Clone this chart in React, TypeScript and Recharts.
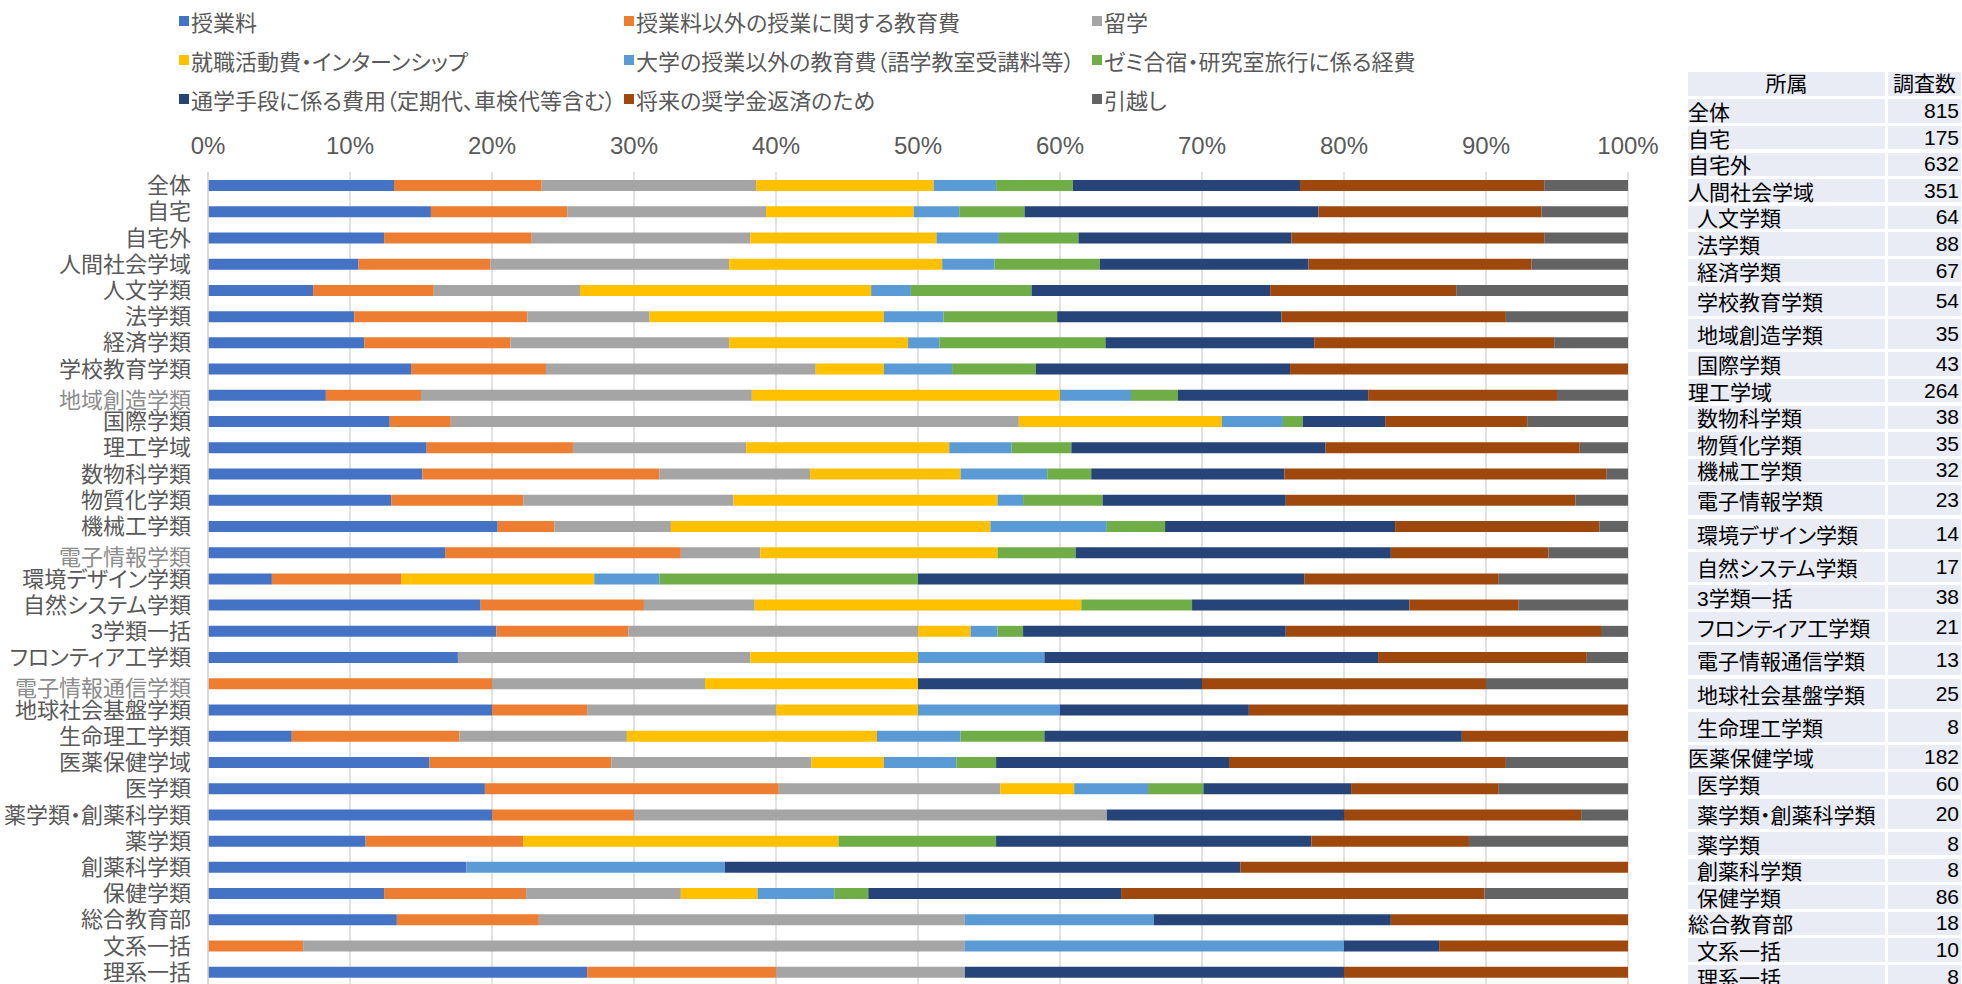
import { BarChart, Bar, XAxis, YAxis, CartesianGrid } from 'recharts';

const FONT = "'Liberation Sans', 'Noto Sans CJK JP', sans-serif";
const PALT = '"palt" 1';

const categories = [
  '全体', '自宅', '自宅外', '人間社会学域', '人文学類', '法学類', '経済学類', '学校教育学類',
  '地域創造学類', '国際学類', '理工学域', '数物科学類', '物質化学類', '機械工学類', '電子情報学類',
  '環境デザイン学類', '自然システム学類', '3学類一括', 'フロンティア工学類', '電子情報通信学類',
  '地球社会基盤学類', '生命理工学類', '医薬保健学域', '医学類', '薬学類・創薬科学類', '薬学類',
  '創薬科学類', '保健学類', '総合教育部', '文系一括', '理系一括'
];

// percentages per category, same order as categories
const tuition = [13.1, 15.7, 12.4, 10.6, 7.4, 10.3, 11.0, 14.3, 8.3, 12.8, 15.4, 15.1, 12.9, 20.4, 16.7, 4.5, 19.2, 20.3, 17.6, 0, 20.0, 5.9, 15.6, 19.5, 20.0, 11.1, 18.2, 12.4, 13.3, 0, 26.7];
const otherClass = [10.4, 9.6, 10.4, 9.3, 8.5, 12.2, 10.3, 9.5, 6.7, 4.3, 10.3, 16.7, 9.3, 4.0, 16.6, 9.1, 11.5, 9.3, 0, 20.0, 6.7, 11.8, 12.8, 20.7, 10.0, 11.1, 0, 10.0, 10.0, 6.7, 13.3];
const studyAbroad = [15.1, 14.0, 15.4, 16.8, 10.3, 8.6, 15.4, 19.0, 23.3, 40.0, 12.2, 10.6, 14.8, 8.2, 5.6, 0, 7.8, 20.4, 20.6, 15.0, 13.3, 11.8, 14.1, 15.6, 33.3, 0, 0, 10.9, 30.0, 46.6, 13.3];
const jobHunting = [12.5, 10.4, 13.1, 15.0, 20.5, 16.5, 12.6, 4.8, 21.7, 14.3, 14.3, 10.6, 18.6, 22.5, 16.7, 13.6, 23.0, 3.7, 11.8, 15.0, 10.0, 17.6, 5.1, 5.2, 0, 22.2, 0, 5.4, 0, 0, 0];
const extraEdu = [4.4, 3.2, 4.4, 3.7, 2.8, 4.2, 2.2, 4.8, 5.0, 4.3, 4.4, 6.1, 1.8, 8.2, 0, 4.6, 0, 1.9, 8.9, 0, 10.0, 5.9, 5.1, 5.2, 0, 0, 18.2, 5.4, 13.3, 26.7, 0];
const seminar = [5.4, 4.6, 5.6, 7.4, 8.5, 8.0, 11.7, 5.9, 3.3, 1.4, 4.2, 3.1, 5.6, 4.1, 5.5, 18.2, 7.8, 1.8, 0, 0, 0, 5.9, 2.8, 3.9, 0, 11.1, 0, 2.4, 0, 0, 0];
const commute = [16.0, 20.7, 15.0, 14.7, 16.8, 15.8, 14.7, 17.9, 13.4, 5.8, 17.9, 13.6, 12.9, 16.2, 22.2, 27.2, 15.3, 18.5, 23.5, 20.0, 13.3, 29.4, 16.4, 10.4, 16.7, 22.2, 36.3, 17.8, 16.7, 6.7, 26.7];
const scholarship = [17.2, 15.7, 17.8, 15.7, 13.1, 15.8, 16.9, 23.8, 13.3, 10.0, 17.9, 22.7, 20.4, 14.4, 11.1, 13.7, 7.7, 22.2, 14.7, 20.0, 26.7, 11.7, 19.5, 10.4, 16.7, 11.1, 27.3, 25.6, 16.7, 13.3, 20.0];
const moving = [5.9, 6.1, 5.9, 6.8, 12.1, 8.6, 5.2, 0, 5.0, 7.1, 3.4, 1.5, 3.7, 2.0, 5.6, 9.1, 7.7, 1.9, 2.9, 10.0, 0, 0, 8.6, 9.1, 3.3, 11.2, 0, 10.1, 0, 0, 0];

const respondents = [815, 175, 632, 351, 64, 88, 67, 54, 35, 43, 264, 38, 35, 32, 23, 14, 17, 38, 21, 13, 25, 8, 182, 60, 20, 8, 8, 86, 18, 10, 8];

const xTicks = [0, 10, 20, 30, 40, 50, 60, 70, 80, 90, 100];

const series = [
  { key: 'tuition', name: '授業料', color: '#4472C4', values: tuition },
  { key: 'otherClass', name: '授業料以外の授業に関する教育費', color: '#ED7D31', values: otherClass },
  { key: 'studyAbroad', name: '留学', color: '#A5A5A5', values: studyAbroad },
  { key: 'jobHunting', name: '就職活動費・インターンシップ', color: '#FFC000', values: jobHunting },
  { key: 'extraEdu', name: '大学の授業以外の教育費（語学教室受講料等）', color: '#5B9BD5', values: extraEdu },
  { key: 'seminar', name: 'ゼミ合宿・研究室旅行に係る経費', color: '#70AD47', values: seminar },
  { key: 'commute', name: '通学手段に係る費用（定期代、車検代等含む）', color: '#264478', values: commute },
  { key: 'scholarship', name: '将来の奨学金返済のため', color: '#9E480E', values: scholarship },
  { key: 'moving', name: '引越し', color: '#636363', values: moving }
];

const data = categories.map((name, i) => {
  const row: Record<string, string | number> = { name };
  series.forEach((s) => {
    row[s.key] = s.values[i];
  });
  return row;
});

// labels drawn lighter / a bit lower in the original
const FADED = new Set(['地域創造学類', '電子情報学類', '電子情報通信学類']);
const TOP_LEVEL = new Set(['全体', '自宅', '自宅外', '人間社会学域', '理工学域', '医薬保健学域', '総合教育部']);
const TALL_ROWS = new Set([
  '学校教育学類', '地域創造学類', '電子情報学類', '環境デザイン学類', '自然システム学類',
  'フロンティア工学類', '電子情報通信学類', '地球社会基盤学類', '生命理工学類', '薬学類・創薬科学類'
]);

function CategoryTick(props: any) {
  const { x, y, payload } = props;
  const faded = FADED.has(payload.value);
  return (
    <text
      x={x}
      y={y}
      dy={faded ? 13 : 8}
      textAnchor="end"
      fill={faded ? '#8C8C8C' : '#595959'}
      fontSize={22}
      fontFamily={FONT}
      style={{ fontFeatureSettings: PALT }}
    >
      {payload.value}
    </text>
  );
}

const legendCols = [179, 624, 1092];
const legendRows = [21, 60, 99];

function LegendBlock() {
  return (
    <>
      {series.map((s, i) => (
        <div
          key={s.key}
          style={{
            position: 'absolute',
            left: legendCols[i % 3],
            top: legendRows[Math.floor(i / 3)] - 14,
            height: 28,
            display: 'flex',
            alignItems: 'center',
            whiteSpace: 'nowrap',
            fontSize: 22,
            color: '#595959',
            fontFeatureSettings: PALT
          }}
        >
          <span style={{ width: 10, height: 10, background: s.color, marginRight: 2, display: 'inline-block' }} />
          {s.name}
        </div>
      ))}
    </>
  );
}

function CountTable() {
  return (
    <div
      style={{
        position: 'absolute',
        left: 1688,
        top: 72,
        width: 273,
        fontSize: 21,
        color: '#000',
        fontFeatureSettings: PALT
      }}
    >
      <div style={{ display: 'flex', height: 24, marginBottom: 3.3 }}>
        <div style={{ width: 197, background: '#E9EBF5', textAlign: 'center', lineHeight: '24px' }}>所属</div>
        <div style={{ width: 3 }} />
        <div style={{ width: 73, background: '#E9EBF5', textAlign: 'center', lineHeight: '24px' }}>調査数</div>
      </div>
      {categories.map((name, i) => {
        const h = TALL_ROWS.has(name) ? 30 : 23.3;
        return (
          <div key={name} style={{ display: 'flex', height: h, marginBottom: 3.33 }}>
            <div
              style={{
                width: 197,
                background: '#E9EBF5',
                display: 'flex',
                alignItems: 'center',
                paddingLeft: TOP_LEVEL.has(name) ? 0 : 9,
                boxSizing: 'border-box',
                whiteSpace: 'nowrap'
              }}
            >
              {name}
            </div>
            <div style={{ width: 3 }} />
            <div
              style={{
                width: 73,
                background: '#E9EBF5',
                display: 'flex',
                alignItems: 'center',
                justifyContent: 'flex-end',
                paddingRight: 2,
                boxSizing: 'border-box'
              }}
            >
              {respondents[i]}
            </div>
          </div>
        );
      })}
    </div>
  );
}

export default function App() {
  return (
    <div
      style={{
        position: 'absolute',
        left: 0,
        top: 0,
        width: 1962,
        height: 984,
        background: '#fff',
        overflow: 'hidden',
        fontFamily: FONT
      }}
    >
      <LegendBlock />
      <div style={{ position: 'absolute', left: 0, top: 0 }}>
        <BarChart
          width={1680}
          height={985}
          layout="vertical"
          data={data}
          margin={{ top: 132, right: 52, bottom: 0, left: 8 }}
          barSize={11}
        >
          <CartesianGrid horizontal={false} stroke="#D9D9D9" strokeWidth={1.5} />
          <XAxis
            type="number"
            orientation="top"
            domain={[0, 100]}
            ticks={xTicks}
            allowDataOverflow
            height={40}
            axisLine={false}
            tickLine={false}
            tickMargin={12}
            tickFormatter={(v) => `${v}%`}
            tick={{ fill: '#595959', fontSize: 24, fontFamily: FONT }}
          />
          <YAxis
            type="category"
            dataKey="name"
            width={200}
            interval={0}
            axisLine={{ stroke: '#D9D9D9', strokeWidth: 1.5 }}
            tickLine={false}
            tickMargin={11}
            tick={<CategoryTick />}
          />
          {series.map((s) => (
            <Bar
              key={s.key}
              dataKey={s.key}
              name={s.name}
              stackId="a"
              fill={s.color}
              isAnimationActive={false}
            />
          ))}
        </BarChart>
      </div>
      <CountTable />
    </div>
  );
}
